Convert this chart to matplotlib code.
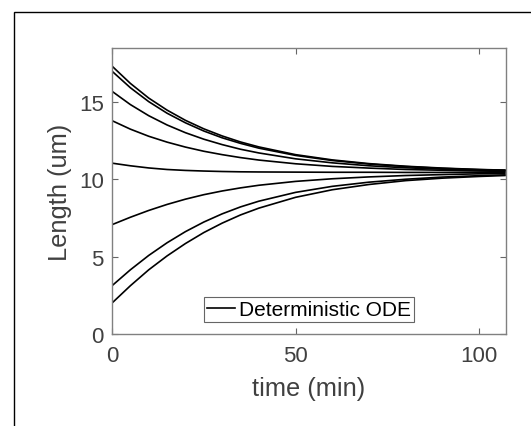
"""Deterministic ODE relaxation of length towards steady state."""
import matplotlib
matplotlib.use("Agg")
import matplotlib.pyplot as plt
from matplotlib.patches import Rectangle

plt.rcParams["font.family"] = ["Liberation Sans", "DejaVu Sans"]

# time samples (min) and length (um) for each trajectory
time = [0, 5, 10, 15, 20, 25, 30, 35, 40, 50, 60, 70, 80, 90, 100, 107]

len_a = [17.33, 16.21, 15.26, 14.48, 13.82, 13.27, 12.81, 12.42, 12.10,
         11.60, 11.26, 11.02, 10.85, 10.73, 10.64, 10.60]
len_b = [17.00, 15.93, 15.03, 14.28, 13.66, 13.13, 12.69, 12.33, 12.02,
         11.55, 11.22, 10.99, 10.83, 10.71, 10.63, 10.59]
len_c = [15.70, 14.84, 14.12, 13.52, 13.02, 12.60, 12.25, 11.95, 11.71,
         11.33, 11.07, 10.88, 10.75, 10.66, 10.60, 10.57]
len_d = [13.80, 13.25, 12.79, 12.41, 12.09, 11.82, 11.60, 11.41, 11.25,
         11.01, 10.84, 10.73, 10.64, 10.59, 10.54, 10.52]
len_e = [11.05, 10.88, 10.74, 10.64, 10.58, 10.54, 10.51, 10.49, 10.48,
         10.47, 10.46, 10.46, 10.45, 10.45, 10.45, 10.45]
len_f = [7.07, 7.55, 7.99, 8.38, 8.72, 9.01, 9.25, 9.45, 9.62,
         9.87, 10.04, 10.16, 10.25, 10.31, 10.36, 10.38]
len_g = [3.12, 4.15, 5.08, 5.90, 6.62, 7.24, 7.77, 8.22, 8.59,
         9.16, 9.55, 9.82, 10.01, 10.15, 10.24, 10.29]
len_h = [2.00, 3.12, 4.15, 5.05, 5.85, 6.56, 7.17, 7.70, 8.14,
         8.84, 9.33, 9.67, 9.92, 10.08, 10.19, 10.25]

trajectories = [len_a, len_b, len_c, len_d, len_e, len_f, len_g, len_h]
x_ticks = [0, 50, 100]
y_ticks = [0, 5, 10, 15]

fig = plt.figure(figsize=(5.31, 4.27), dpi=100)
ax = fig.add_axes([0.2109, 0.2155, 0.7413, 0.6698])

# outer frame, cut off by the right/bottom image edge
fig.patches.append(Rectangle((14 / 531, -0.1), 1.2, 0.1 + (427 - 12.5) / 427,
                             transform=fig.transFigure, fill=False,
                             edgecolor="black", linewidth=1.0, zorder=0))

for i, L in enumerate(trajectories):
    ax.plot(time, L, color="black", linewidth=1.2,
            label="Deterministic ODE" if i == 0 else None)

ax.set_xlim(0, 107.2)
ax.set_ylim(0, 18.5)
ax.set_xticks(x_ticks)
ax.set_yticks(y_ticks)
ax.tick_params(direction="in", top=True, right=True, length=4,
               width=0.8, color="0.4", labelsize=16, labelcolor="0.25")
ax.tick_params(axis="x", pad=8)
ax.tick_params(axis="y", pad=6)
for sp in ax.spines.values():
    sp.set_color("0.5")
    sp.set_linewidth(1.0)

ax.set_xlabel("time (min)", fontsize=18.3, color="0.25", labelpad=7)
ax.set_ylabel("Length (um)", fontsize=18.3, color="0.25", labelpad=5)

leg = ax.legend(loc="lower center", bbox_to_anchor=(0.5, 0.041),
                borderaxespad=0, fontsize=15, fancybox=False,
                framealpha=1, edgecolor="0.4", borderpad=0.15,
                handlelength=1.35, handletextpad=0.2)
leg.get_frame().set_linewidth(0.8)

fig.savefig("out.png", dpi=100)
